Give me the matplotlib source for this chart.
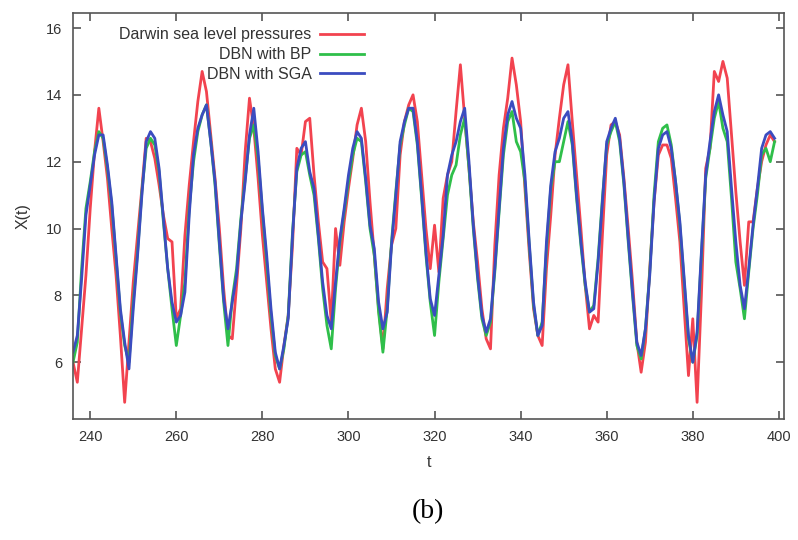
import numpy as np
import matplotlib
matplotlib.use("Agg")
import matplotlib.pyplot as plt

# months 236..399
t = np.arange(236, 400)

darwin = [6.0, 5.4, 7.0, 8.6, 10.6, 12.3, 13.6, 12.6, 11.5, 10.0,
          8.6, 6.8, 4.8, 6.6, 8.4, 9.8, 11.2, 12.7, 12.6, 12.1,
          11.3, 10.4, 9.7, 9.6, 7.3, 7.6, 9.8, 11.3, 12.6, 13.8,
          14.7, 14.1, 12.8, 11.5, 10.0, 8.2, 6.8, 6.7, 8.3, 10.0,
          12.3, 13.9, 13.0, 11.5, 9.8, 8.4, 7.0, 5.8, 5.4, 6.5,
          7.4, 9.5, 12.4, 12.2, 13.2, 13.3, 11.6, 10.2, 9.0, 8.8,
          7.2, 10.0, 8.9, 10.2, 11.2, 12.1, 13.1, 13.6, 12.6, 10.8,
          9.2, 7.6, 6.4, 8.2, 9.5, 10.0, 12.2, 13.2, 13.7, 14.0,
          13.2, 11.6, 10.0, 8.8, 10.1, 8.7, 10.9, 11.6, 12.0, 13.5,
          14.9, 13.3, 11.8, 10.2, 9.0, 7.6, 6.7, 6.4, 9.5, 11.6,
          13.0, 13.9, 15.1, 14.3, 13.2, 11.2, 9.3, 7.6, 6.8, 6.5,
          8.8, 10.4, 12.2, 13.3, 14.3, 14.9, 13.2, 11.6, 10.0, 8.3,
          7.0, 7.4, 7.2, 9.8, 12.2, 13.1, 13.2, 12.8, 11.5, 10.0,
          8.4, 6.6, 5.7, 6.6, 8.8, 10.8, 12.2, 12.5, 12.5, 12.1,
          10.9, 9.6, 7.6, 5.6, 7.3, 4.8, 8.0, 11.8, 12.4, 14.7,
          14.4, 15.0, 14.5, 12.8, 11.1, 9.6, 8.3, 10.2, 10.2, 11.2,
          12.0, 12.5, 12.8, 12.6]

dbn_bp = [6.0, 6.6, 8.8, 10.6, 11.4, 12.3, 12.9, 12.7, 11.8, 10.7,
          9.1, 7.5, 6.5, 6.0, 7.8, 9.3, 11.1, 12.4, 12.7, 12.5,
          11.7, 10.2, 8.8, 7.6, 6.5, 7.4, 8.4, 10.6, 12.0, 12.9,
          13.4, 13.7, 12.6, 11.3, 9.5, 7.8, 6.5, 7.9, 8.8, 10.3,
          11.5, 12.7, 13.1, 12.1, 10.5, 9.0, 7.4, 6.2, 5.8, 6.4,
          7.4, 9.9, 11.7, 12.2, 12.3, 11.6, 11.0, 9.7, 8.2, 7.1,
          6.4, 8.2, 9.6, 10.5, 11.4, 12.2, 12.7, 12.6, 11.4, 10.0,
          9.2, 7.5, 6.3, 7.6, 9.6, 11.1, 12.5, 13.1, 13.6, 13.5,
          12.5, 10.9, 9.2, 7.8, 6.8, 8.4, 9.7, 11.0, 11.6, 11.9,
          12.8, 13.3, 11.8, 10.0, 8.5, 7.3, 6.8, 7.2, 8.7, 10.5,
          12.2, 13.2, 13.5, 12.6, 12.3, 11.4, 9.5, 7.7, 6.8, 7.2,
          9.4, 11.2, 12.0, 12.0, 12.6, 13.2, 12.5, 10.9, 9.5, 8.3,
          7.5, 7.7, 9.1, 10.9, 12.5, 12.9, 13.2, 12.6, 11.3, 9.6,
          8.0, 6.5, 6.1, 7.0, 8.7, 11.0, 12.6, 13.0, 13.1, 12.5,
          11.4, 10.1, 8.4, 6.7, 6.0, 6.8, 9.2, 11.5, 12.4, 13.3,
          13.8, 13.0, 12.6, 10.9, 9.0, 8.2, 7.3, 8.7, 10.0, 11.0,
          12.2, 12.4, 12.0, 12.6]

dbn_sga = [6.3, 6.8, 8.5, 10.4, 11.3, 12.2, 12.8, 12.8, 11.9, 10.8,
           9.2, 7.6, 6.6, 5.8, 7.6, 9.2, 11.0, 12.6, 12.9, 12.7,
           11.8, 10.3, 8.8, 7.8, 7.2, 7.4, 8.1, 10.4, 12.2, 13.0,
           13.4, 13.7, 12.6, 11.4, 9.6, 7.9, 7.0, 7.8, 8.6, 10.2,
           11.4, 12.8, 13.6, 12.3, 10.6, 9.2, 7.6, 6.3, 5.8, 6.5,
           7.3, 9.8, 11.8, 12.4, 12.6, 11.7, 11.2, 9.8, 8.4, 7.4,
           7.0, 8.4, 9.7, 10.6, 11.6, 12.4, 12.9, 12.7, 11.5, 10.1,
           9.4, 7.8, 7.0, 7.5, 9.5, 11.0, 12.6, 13.2, 13.6, 13.6,
           12.6, 11.0, 9.3, 7.9, 7.4, 8.6, 9.8, 11.6, 12.2, 12.6,
           13.2, 13.6, 12.0, 10.1, 8.6, 7.4, 6.9, 7.3, 8.8, 10.6,
           12.4, 13.4, 13.8, 13.3, 13.0, 11.6, 9.6, 7.8, 6.8, 7.1,
           9.6, 11.3, 12.3, 12.7, 13.3, 13.5, 12.6, 11.0, 9.6, 8.4,
           7.5, 7.6, 9.0, 10.8, 12.6, 13.0, 13.3, 12.7, 11.4, 9.7,
           8.1, 6.6, 6.2, 7.0, 8.6, 10.8, 12.4, 12.8, 12.9, 12.4,
           11.4, 10.2, 8.5, 6.8, 6.0, 6.9, 9.3, 11.6, 12.6, 13.5,
           14.0, 13.4, 12.9, 11.2, 9.6, 8.3, 7.6, 8.8, 10.1, 11.2,
           12.4, 12.8, 12.9, 12.7]

labels = ["Darwin sea level pressures", "DBN with BP", "DBN with SGA"]
colors = ["#f2434f", "#2fbf4a", "#3b4cc0"]

fig = plt.figure(figsize=(7.98, 5.40), dpi=100)
ax = fig.add_axes([0.0915, 0.224, 0.891, 0.752])

for y, lab, c in zip([darwin, dbn_bp, dbn_sga], labels, colors):
    ax.plot(t, y, color=c, lw=2.0, label=lab)

ax.set_xlim(236, 401.2)
ax.set_ylim(4.3, 16.45)
ax.set_xticks(np.arange(240, 401, 20))
ax.set_yticks(np.arange(6, 17, 2))

gray = "#555555"
for s in ax.spines.values():
    s.set_color(gray)
    s.set_linewidth(1.2)
ax.tick_params(direction="in", length=6, width=1.2, color=gray,
               top=True, right=True, labelsize=10.5, labelcolor="#333333", pad=8)
for lbl in ax.get_xticklabels() + ax.get_yticklabels():
    lbl.set_family("Liberation Sans")

ax.set_xlabel("t", fontsize=11.5, color="#333333", family="Liberation Sans", labelpad=8)
ax.set_ylabel("X(t)", fontsize=11.5, color="#333333", family="Liberation Sans", labelpad=11)

leg = ax.legend(loc="upper right", bbox_to_anchor=(0.43, 1.0), frameon=False,
                markerfirst=False, handlelength=2.8, handletextpad=0.5,
                labelspacing=0.3, prop={"family": "Liberation Sans", "size": 11.5})
for txt in leg.get_texts():
    txt.set_color("#333333")

fig.text(0.536, 0.052, "(b)", ha="center", va="center",
         fontsize=20, family="Liberation Serif")

fig.savefig("out.png", dpi=100)
